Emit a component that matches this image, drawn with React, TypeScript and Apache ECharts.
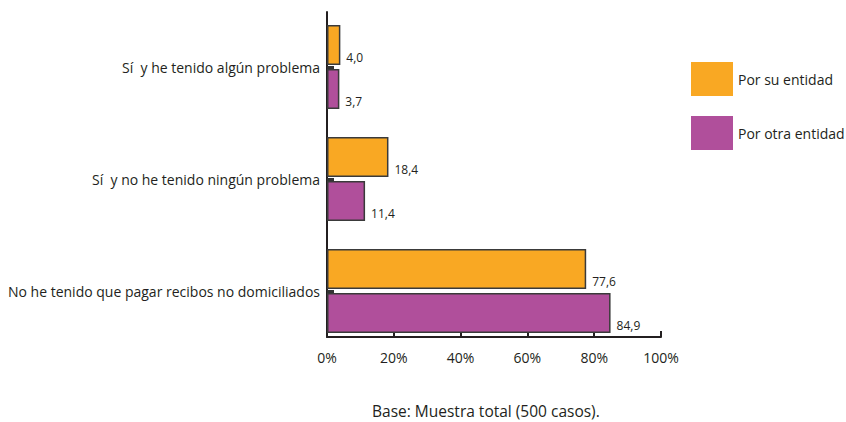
import React, { useEffect, useRef } from "react";
import * as echarts from "echarts";

// Survey answers, top to bottom
const categories = [
  "Sí\u00a0 y he tenido algún problema",
  "Sí\u00a0 y no he tenido ningún problema",
  "No he tenido que pagar recibos no domiciliados",
];
const seriesNames = ["Por su entidad", "Por otra entidad"];
const porSuEntidad = [4.0, 18.4, 77.6];
const porOtraEntidad = [3.7, 11.4, 84.9];
const xTicks = [0, 20, 40, 60, 80, 100];
const footnote = "Base: Muestra total (500 casos).";

const ORANGE = "#F9A823";
const PURPLE = "#B04F9B";
const INK = "#231F20";
const FONT = "'Open Sans', 'Noto Sans', sans-serif";

const fmt = (v: number) => v.toFixed(1).replace(".", ",");

export default function App() {
  const ref = useRef<HTMLDivElement>(null);

  useEffect(() => {
    document.body.style.margin = "0";
    if (!ref.current) return;
    const chart = echarts.init(ref.current, undefined, { renderer: "svg" });

    const barLabel = {
      show: true,
      position: "right" as const,
      distance: 6,
      offset: [0, 12],
      color: INK,
      fontSize: 12,
      fontFamily: FONT,
      formatter: (p: any) => fmt(p.value),
    };

    chart.setOption({
      animation: false,
      backgroundColor: "#ffffff",
      textStyle: { fontFamily: FONT },
      title: {
        text: footnote,
        left: 372,
        top: 403,
        padding: 0,
        textStyle: { fontSize: 15.5, fontWeight: "normal", color: INK, fontFamily: FONT },
      },
      legend: {
        orient: "vertical",
        left: 691,
        top: 62,
        padding: 0,
        itemWidth: 42,
        itemHeight: 34,
        itemGap: 20,
        icon: "rect",
        data: seriesNames,
        itemStyle: { borderWidth: 0 },
        textStyle: { fontSize: 14, color: INK, fontFamily: FONT },
      },
      grid: [
        // bars and category labels
        { left: 327, top: 11, width: 334, height: 336 },
        // value axis and vertical axis line
        { left: 327, top: 12, width: 334, height: 325 },
      ],
      xAxis: [
        { gridIndex: 0, type: "value", min: 0, max: 100, show: false },
        {
          gridIndex: 1,
          type: "value",
          min: 0,
          max: 100,
          interval: 20,
          axisLine: { show: true, lineStyle: { color: INK, width: 2 } },
          axisTick: { show: true, inside: true, length: 6, lineStyle: { color: INK, width: 2 } },
          splitLine: { show: false },
          axisLabel: {
            color: INK,
            fontSize: 14,
            fontFamily: FONT,
            margin: 13,
            formatter: (v: number) => (xTicks.includes(v) ? `${v}%` : ""),
          },
        },
      ],
      yAxis: [
        {
          gridIndex: 0,
          type: "category",
          inverse: true,
          data: categories,
          axisLine: { show: false },
          axisTick: {
            show: true,
            inside: true,
            alignWithLabel: true,
            length: 7,
            lineStyle: { color: "#333", width: 3 },
          },
          axisLabel: {
            color: INK,
            fontSize: 14,
            fontFamily: FONT,
            margin: 7,
          },
        },
        {
          gridIndex: 1,
          type: "value",
          min: 0,
          max: 1,
          axisLine: { show: true, lineStyle: { color: INK, width: 2 } },
          axisTick: { show: false },
          axisLabel: { show: false },
          splitLine: { show: false },
        },
      ],
      series: [
        {
          name: seriesNames[0],
          type: "bar",
          xAxisIndex: 0,
          yAxisIndex: 0,
          data: porSuEntidad,
          barWidth: 40,
          barGap: "10%",
          itemStyle: { color: ORANGE, borderColor: "#3a3a3a", borderWidth: 1.5 },
          label: barLabel,
        },
        {
          name: seriesNames[1],
          type: "bar",
          xAxisIndex: 0,
          yAxisIndex: 0,
          data: porOtraEntidad,
          barWidth: 40,
          barGap: "10%",
          itemStyle: { color: PURPLE, borderColor: "#3a3a3a", borderWidth: 1.5 },
          label: barLabel,
        },
      ],
    });

    return () => chart.dispose();
  }, []);

  return <div ref={ref} style={{ width: 846, height: 422 }} />;
}
